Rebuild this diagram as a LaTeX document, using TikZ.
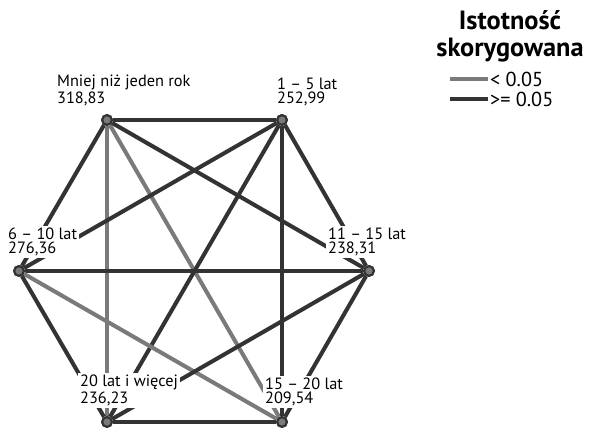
\documentclass[tikz,border=0pt]{standalone}
\usepackage{fontspec}
\setmainfont{PT Sans}
\usetikzlibrary{positioning}
\definecolor{sigdark}{HTML}{333333}
\definecolor{siggray}{HTML}{7A7A7A}
\tikzset{
  grp/.style={circle, draw=sigdark, fill=siggray, line width=1.2pt, inner sep=0pt, minimum size=5.5pt},
  lbl/.style={fill=white, align=left, inner sep=1pt, font=\fontsize{9.3}{8.2}\selectfont},
  sig/.style={draw=siggray, line width=2.3pt},
  nsig/.style={draw=sigdark, line width=2.3pt},
  legtxt/.style={anchor=west, inner sep=1pt, font=\fontsize{11.5}{11.5}\selectfont},
}

\begin{document}
\begin{tikzpicture}[x=0.02cm, y=-0.02cm]
\useasboundingbox (0,0) rectangle (592,428);

% groups
\node[grp] (lt1) at (107,120) {};
\node[grp] (y1to5) at (282,120) {};
\node[grp] (y11to15) at (369,271) {};
\node[grp] (y15to20) at (282,422) {};
\node[grp] (y20plus) at (107,422) {};
\node[grp] (y6to10) at (19,271) {};

% pairwise comparisons
\draw[nsig] (lt1) -- (y1to5);
\draw[nsig] (lt1) -- (y6to10);
\draw[sig] (lt1) -- (y20plus);
\draw[sig] (lt1) -- (y15to20);
\draw[nsig] (lt1) -- (y11to15);
\draw[nsig] (y1to5) -- (y6to10);
\draw[nsig] (y1to5) -- (y20plus);
\draw[nsig] (y1to5) -- (y15to20);
\draw[nsig] (y1to5) -- (y11to15);
\draw[nsig] (y6to10) -- (y11to15);
\draw[sig] (y6to10) -- (y15to20);
\draw[nsig] (y6to10) -- (y20plus);
\draw[nsig] (y11to15) -- (y20plus);
\draw[nsig] (y11to15) -- (y15to20);
\draw[nsig] (y20plus) -- (y15to20);

% labels
\node[lbl, anchor=south west] (lt1lbl) at (55,108) {Mniej niż jeden rok\\318,83};
\node[lbl, anchor=south west] (y1to5lbl) at (275,108) {1 – 5 lat\\252,99};
\node[lbl, anchor=south west] (y6to10lbl) at (6,258) {6 – 10 lat\\276,36};
\node[lbl, anchor=south west] (y11to15lbl) at (326,258) {11 – 15 lat\\238,31};
\node[lbl, anchor=south west] (y20pluslbl) at (78,408) {20 lat i więcej\\236,23};
\node[lbl, anchor=south west] (y15to20lbl) at (263,408) {15 – 20 lat\\209,54};

% redraw nodes on top
\foreach \g in {lt1,y1to5,y11to15,y15to20,y20plus,y6to10}
  \node[grp] at (\g) {};

% legend
\node[font=\fontsize{15}{15.5}\selectfont\bfseries, align=center] (legtitle) at (510,36) {Istotność\\skorygowana};
\coordinate (sigA) at (450,79);
\coordinate (sigB) at (488,79);
\coordinate (nsigA) at (450,99);
\coordinate (nsigB) at (488,99);
\draw[sig] (sigA) -- (sigB);
\draw[nsig] (nsigA) -- (nsigB);
\node[legtxt] (siglbl) at (sigB) {< 0.05};
\node[legtxt] (nsiglbl) at (nsigB) {>= 0.05};
\end{tikzpicture}
\end{document}
